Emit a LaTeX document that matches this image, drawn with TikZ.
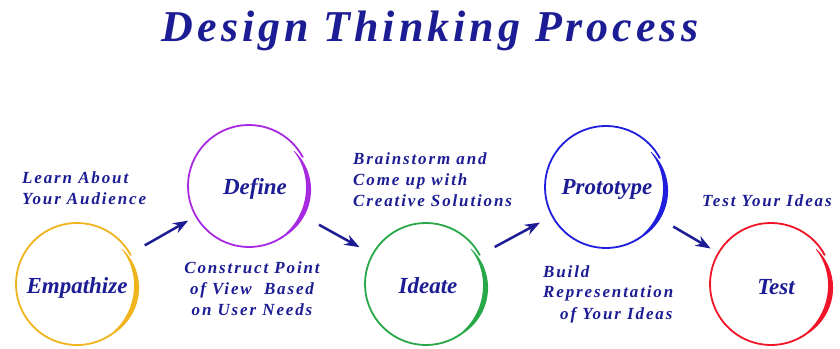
\documentclass[tikz,border=0pt]{standalone}
\usepackage{fontspec}
\setmainfont{Liberation Serif}
\newfontfamily\spacedserif[LetterSpace=11]{Liberation Serif}
\newfontfamily\titleserif[LetterSpace=9]{Liberation Serif}
\usetikzlibrary{arrows.meta}
\definecolor{ink}{HTML}{1C1C94}
\definecolor{gold}{HTML}{F0B41E}
\definecolor{violet}{HTML}{A82AE0}
\definecolor{leaf}{HTML}{28A848}
\definecolor{royal}{HTML}{1E1EDC}
\definecolor{scarlet}{HTML}{F01428}

% brush-stroke ring around a stage node: thin open circle plus a tapered heavy arc
\newcommand\brushring[2]{%
  \begin{scope}[shift={(#1.center)}]
    \draw[#2, line width=1.8pt] (28:61) arc[start angle=28, end angle=305, radius=61];
    \fill[#2] plot[domain=38:-62, samples=60, variable=\t]
        (\t:{61-4*(1-(38-(\t))/100)^2+0.3+2.3*sin(1.8*(38-(\t)))})
      -- plot[domain=-62:38, samples=60, variable=\t]
        (\t:{61-4*(1-(38-(\t))/100)^2-0.3-2.3*sin(1.8*(38-(\t)))})
      -- cycle;
  \end{scope}}

\begin{document}
\begin{tikzpicture}[x=1pt, y=1pt,
  ring/.style={circle, minimum size=122pt, inner sep=0pt, outer sep=0pt},
  stage/.style={anchor=base, text=ink, inner sep=0pt,
    font=\fontsize{23}{28}\selectfont\bfseries\itshape},
  note/.style={text=ink, inner sep=0pt,
    font=\spacedserif\fontsize{17}{21}\selectfont\bfseries\itshape},
  flow/.style={draw=ink, line width=2.5pt, -{Stealth[length=15pt, width=11pt]}}]

  \fill[white] (0,0) rectangle (840,348);
  \useasboundingbox (0,0) rectangle (840,348);

  % title
  \node[anchor=base, text=ink, inner sep=0pt,
    font=\titleserif\fontsize{44}{52}\selectfont\bfseries\itshape]
    (title) at (430,306) {Design Thinking Process};

  % stages
  \node[ring] (emp) at (77,64) {};
  \node[ring] (def) at (249,162) {};
  \node[ring] (ide) at (426,64) {};
  \node[ring] (pro) at (606,161) {};
  \node[ring] (tes) at (771,64) {};

  \brushring{emp}{gold}
  \brushring{def}{violet}
  \brushring{ide}{leaf}
  \brushring{pro}{royal}
  \brushring{tes}{scarlet}

  \node[stage] (empname) at (77,55) {Empathize};
  \node[stage] (defname) at (255,153) {Define};
  \node[stage] (idename) at (428,55) {Ideate};
  \node[stage] (proname) at (607,153) {Prototype};
  \node[stage] (tesname) at (776,53) {Test};

  % descriptions (base anchor sits on the last line)
  \node[note, anchor=base west, align=left] (empnote) at (22,143)
    {Learn About\\Your Audience};
  \node[note, anchor=base, align=center] (defnote) at (252,33)
    {Construct Point\\of View\ \ Based\\on User Needs};
  \node[note, anchor=base west, align=left] (idenote) at (353,141)
    {Brainstorm and\\Come up with\\Creative Solutions};
  \node[note, anchor=base west, align=left] (pronote) at (543,29)
    {Build\\Representation\\\hspace*{17pt}of Your Ideas};
  \node[note, anchor=base west] (tesnote) at (702,141) {Test Your Ideas};

  % flow between stages
  \draw[flow, shorten <=17pt, shorten >=9pt] (emp) -- (def);
  \draw[flow, shorten <=19pt, shorten >=15pt] (def) -- (ide);
  \draw[flow, shorten <=17pt, shorten >=14pt] (ide) -- (pro);
  \draw[flow, shorten <=17pt, shorten >=9pt] (pro) -- (tes);
\end{tikzpicture}
\end{document}
